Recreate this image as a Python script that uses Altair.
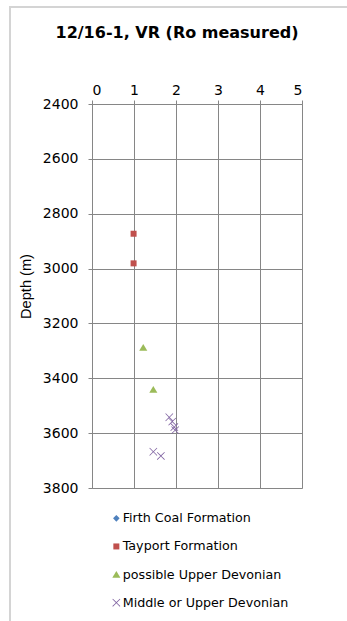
import altair as alt
import pandas as pd

# Vitrinite reflectance (Ro, %) against depth (m), well 12/16-1
series_names = [
    "Firth Coal Formation",
    "Tayport Formation",
    "possible Upper Devonian",
    "Middle or Upper Devonian",
]
series_colors = ["#4F81BD", "#C0504D", "#9BBB59", "#8064A2"]

tayport_ro = [0.99, 0.99]
tayport_depth = [2873, 2981]

upper_dev_ro = [1.22, 1.46]
upper_dev_depth = [3288, 3441]

mid_upper_dev_ro = [1.84, 1.91, 1.96, 1.98, 1.46, 1.64]
mid_upper_dev_depth = [3542, 3558, 3578, 3589, 3668, 3683]

depth_ticks = [2400, 2600, 2800, 3000, 3200, 3400, 3600, 3800]
ro_ticks = [0, 1, 2, 3, 4, 5]

rows = []
for name, ros, depths in [
    (series_names[1], tayport_ro, tayport_depth),
    (series_names[2], upper_dev_ro, upper_dev_depth),
    (series_names[3], mid_upper_dev_ro, mid_upper_dev_depth),
]:
    for r, d in zip(ros, depths):
        rows.append({"series": name, "ro": r, "depth": d})
df = pd.DataFrame(rows)

# marker outlines in symbol units (drawn at a common size of 36 -> 1 unit = 3 px)
diamond_marker = "M0,-1.1L1.1,0L0,1.1L-1.1,0Z"
square_marker = "M-1,-1L1,-1L1,1L-1,1Z"
triangle_marker = "M0,-1.2L1.35,1.1L-1.35,1.1Z"
x_marker = ("M-1.33,-1.15L-1.15,-1.33L0,-0.18L1.15,-1.33L1.33,-1.15L0.18,0"
            "L1.33,1.15L1.15,1.33L0,0.18L-1.15,1.33L-1.33,1.15L-0.18,0Z")

font = "DejaVu Sans"
grid_gray = "#868686"

points = alt.Chart(df).mark_point(filled=True, opacity=1, size=36).encode(
    x=alt.X(
        "ro:Q",
        scale=alt.Scale(domain=[0, 5], nice=False),
        axis=alt.Axis(
            orient="top", values=ro_ticks, title=None, format="d",
            labelFontSize=14, labelPadding=3, tickSize=4,
            labelFont=font, labelColor="#000000",
            grid=True, gridColor=grid_gray, gridOpacity=1, gridWidth=1,
            domainColor=grid_gray, tickColor=grid_gray,
        ),
    ),
    y=alt.Y(
        "depth:Q",
        scale=alt.Scale(domain=[2400, 3800], reverse=True, nice=False, zero=False),
        axis=alt.Axis(
            values=depth_ticks, title="Depth (m)", format="d",
            labelFontSize=14, labelPadding=10, tickSize=4,
            labelFont=font, labelColor="#000000",
            titleFont="Liberation Sans", titleFontSize=14.6,
            titleFontWeight="normal",
            titleColor="#000000", titleX=-66, titleY=182,
            titleBaseline="middle",
            grid=True, gridColor=grid_gray, gridOpacity=1, gridWidth=1,
            domainColor=grid_gray, tickColor=grid_gray,
        ),
    ),
    color=alt.Color(
        "series:N",
        scale=alt.Scale(domain=series_names, range=series_colors),
        legend=alt.Legend(
            title=None, orient="none", legendX=18, legendY=408,
            labelFont=font, labelFontSize=12.7, labelColor="#000000",
            rowPadding=14.1, symbolSize=36, labelOffset=0, padding=0,
            labelLimit=0,
        ),
    ),
    shape=alt.Shape(
        "series:N",
        scale=alt.Scale(
            domain=series_names,
            range=[diamond_marker, square_marker, triangle_marker, x_marker],
        ),
        legend=alt.Legend(title=None),
    ),
)

frame_src = pd.DataFrame({"k": [0]})
frame_left = alt.Chart(frame_src).mark_rule(color="#d4d4d4", strokeWidth=2).encode(
    x=alt.value(-82), y=alt.value(-97), y2=alt.value(517)
)
frame_top = alt.Chart(frame_src).mark_rule(color="#d4d4d4", strokeWidth=2).encode(
    x=alt.value(-83), x2=alt.value(255), y=alt.value(-97)
)

chart = alt.layer(frame_left, frame_top, points).properties(
    width=210,
    height=384,
    padding={"left": 92, "top": 104, "right": 45, "bottom": 133},
    autosize=alt.AutoSizeParams(type="none"),
    title=alt.TitleParams(
        "12/16-1, VR (Ro measured)",
        font=font, fontSize=16, fontWeight="bold", color="#000000",
        anchor="middle", dx=-20, dy=39, offset=4,
    ),
).configure_view(stroke=grid_gray, strokeWidth=1).configure(background="white")

chart.save("out.html", embed_options={"renderer": "svg", "actions": False})
